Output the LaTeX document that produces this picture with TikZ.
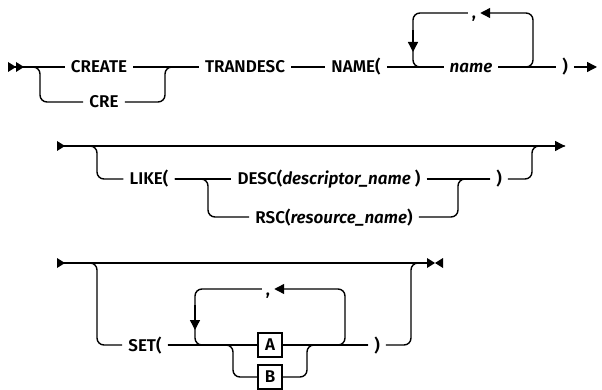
\documentclass[tikz,border=0pt]{standalone}
\usepackage{fontspec}
\setmainfont{Fira Sans}[BoldFont={* SemiBold},BoldItalicFont={* SemiBold Italic}]
\usetikzlibrary{arrows.meta}
\tikzset{
  rail/.style={line width=1.4pt,rounded corners=7pt},
  tip/.style={-{Triangle[length=10pt,width=10pt]}},
  kw/.style={font=\fontsize{17}{19}\selectfont\bfseries,inner xsep=6pt,inner ysep=0pt,
    text height=12pt,text depth=0pt},
  var/.style={kw,font=\fontsize{17}{19}\selectfont\bfseries\itshape},
  sym/.style={draw,line width=1.2pt,font=\fontsize{17}{19}\selectfont\bfseries,
    minimum width=24pt,minimum height=24pt,inner sep=0pt},
}
\begin{document}
\begin{tikzpicture}[x=1pt,y=-1pt]
\useasboundingbox (0,0) rectangle (602,390);
% first line
\coordinate (s1) at (8,67);
\coordinate (e1) at (597,67);
\node[kw] (create) at (99,67) {CREATE};
\node[kw] (cre) at (104,102) {CRE};
\node[kw] (trandesc) at (245,67) {TRANDESC};
\node[kw] (name) at (356,67) {NAME(};
\node[var] (nm) at (471,67) {name};
\node[kw,inner xsep=4pt] (comma1) at (474,13) {,};
\node[kw] (rp1) at (565,67) {)};
\fill (s1) ++(0,-5) -- ++(8,5) -- ++(-8,5) -- cycle;
\fill (s1) ++(8,-5) -- ++(8,5) -- ++(-8,5) -- cycle;
\draw[rail] (s1) -- (create.west);
\draw[rail] (s1) -- (40,67) |- (cre.west);
\draw[rail] (create.east) -- (trandesc.west);
\draw[rail] (cre.east) -| (165,67) -- (trandesc.west);
\draw[rail] (trandesc.east) -- (name.west);
\draw[rail] (name.east) -- (nm.west);
\draw[rail] (nm.east) -- (rp1.west);
\draw[rail,tip] (rp1.east) -- (e1);
\draw[rail,tip] (nm.east) -| (533,13) -- (comma1.east);
\draw[rail] (comma1.west) -| (413,67) -- (nm.west);
\draw[tip,line width=1.4pt] (413,30) -- (413,52);
% second line
\coordinate (s2) at (57,146);
\coordinate (e2) at (565,146);
\node[kw] (like) at (149,179) {LIKE(};
\node[kw] (desc) at (329,179) {DESC(\textit{descriptor\_name} )};
\node[kw] (rsc) at (334,217) {RSC(\textit{resource\_name})};
\node[kw] (rp2) at (499,179) {)};
\fill (s2) ++(0,-5) -- ++(8,5) -- ++(-8,5) -- cycle;
\draw[rail,tip] (s2) -- (e2);
\draw[rail] (s2) -- (97,146) |- (like.west);
\draw[rail] (like.east) -- (desc.west);
\draw[rail] (like.east) -- (208,179) |- (rsc.west);
\draw[rail] (desc.east) -- (rp2.west);
\draw[rail] (rsc.east) -| (458,179) -- (rp2.west);
\draw[rail] (rp2.east) -| (532,146) -- (e2);
% third line
\coordinate (s3) at (57,263);
\coordinate (e3) at (427,263);
\node[kw] (set) at (145,345) {SET(};
\node[sym] (a) at (270,345) {A};
\node[sym] (b) at (270,377) {B};
\node[kw,inner xsep=4pt] (comma3) at (268,289) {,};
\node[kw] (rp3) at (377,345) {)};
\fill (s3) ++(0,-5) -- ++(8,5) -- ++(-8,5) -- cycle;
\fill (e3) ++(0,-5) -- ++(8,5) -- ++(-8,5) -- cycle;
\fill (e3) ++(16,-5) -- ++(-8,5) -- ++(8,5) -- cycle;
\draw[rail] (s3) -- (e3);
\draw[rail] (s3) -- (97,263) |- (set.west);
\draw[rail] (set.east) -- (a.west);
\draw[rail] (set.east) -- (233,345) |- (b.west);
\draw[rail] (a.east) -- (rp3.west);
\draw[rail] (b.east) -| (307,345) -- (rp3.west);
\draw[rail] (rp3.east) -| (411,263) -- (e3);
\draw[rail,tip] (a.east) -| (345,289) -- (comma3.east);
\draw[rail] (comma3.west) -| (195,345) -- (a.west);
\draw[tip,line width=1.4pt] (195,305) -- (195,330);
\end{tikzpicture}
\end{document}
